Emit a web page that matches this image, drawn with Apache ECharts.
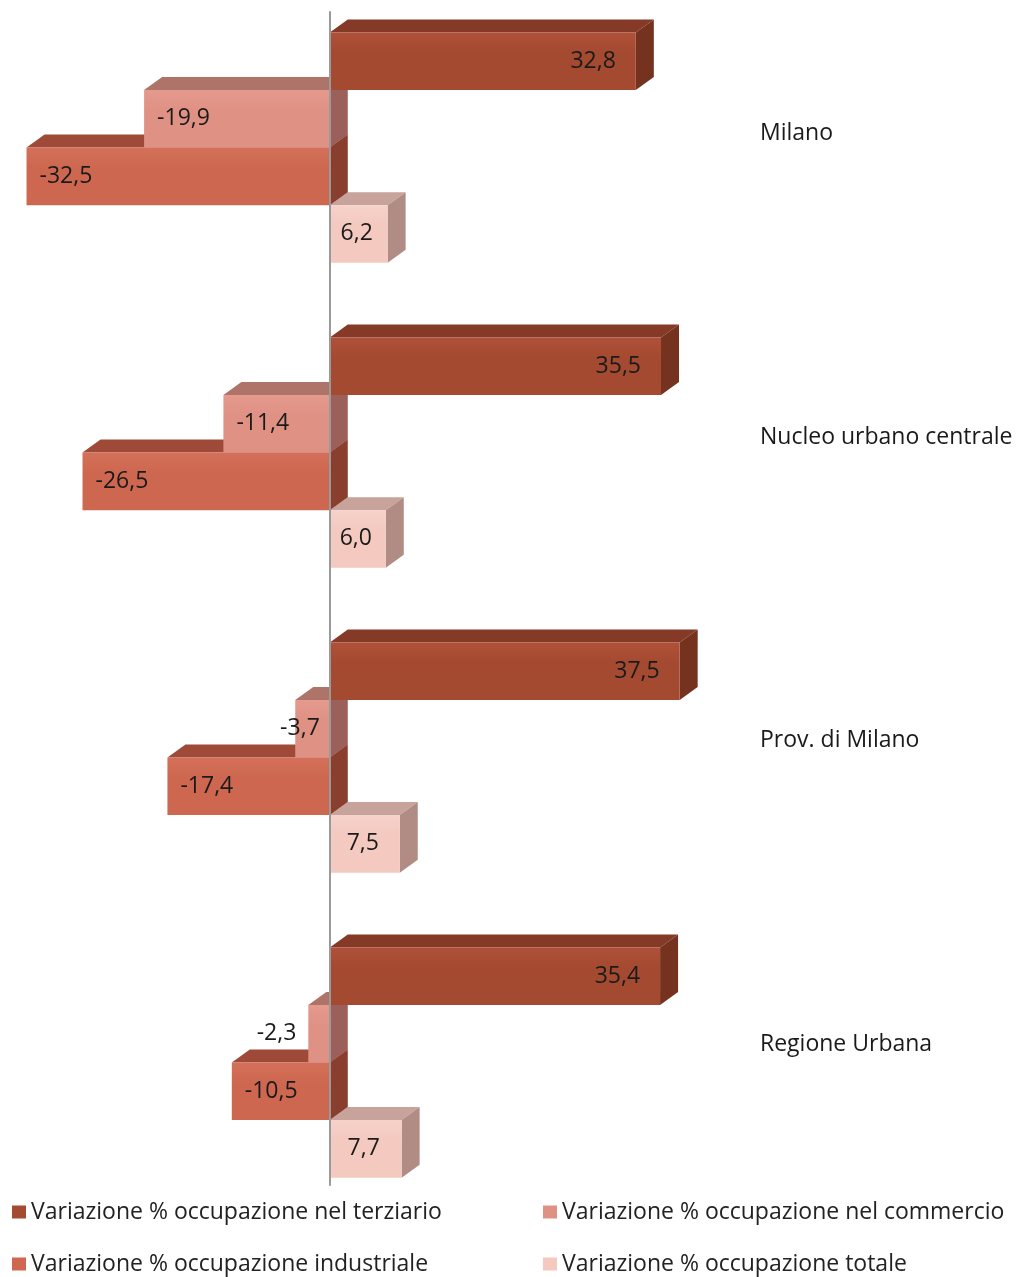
<!DOCTYPE html>
<html>
<head>
<meta charset="utf-8">
<script src="https://cdn.jsdelivr.net/npm/echarts@6/dist/echarts.min.js"></script>
<style>
  html, body { margin: 0; padding: 0; background: #fff; }
  #chart { width: 1017px; height: 1277px; }
</style>
</head>
<body>
<div id="chart"></div>
<script>
// Areas (top to bottom)
const categories = ['Milano', 'Nucleo urbano centrale', 'Prov. di Milano', 'Regione Urbana'];

// Series names
const seriesNames = [
  'Variazione % occupazione nel terziario',
  'Variazione % occupazione nel commercio',
  'Variazione % occupazione industriale',
  'Variazione % occupazione totale'
];

// Values per area
const terziario   = [32.8, 35.5, 37.5, 35.4];
const commercio   = [-19.9, -11.4, -3.7, -2.3];
const industriale = [-32.5, -26.5, -17.4, -10.5];
const totale      = [6.2, 6.0, 7.5, 7.7];

const seriesValues = [terziario, commercio, industriale, totale];

// Face colours: front, top, side
const palette = [
  { front: '#A44A31', light: '#AE5138', top: '#853A27', side: '#74321F' },
  { front: '#DF9184', light: '#E49A8D', top: '#AE7369', side: '#9B6059' },
  { front: '#CD6750', light: '#D47059', top: '#9F4A38', side: '#8A3E2D' },
  { front: '#F3C9C0', light: '#F6D2CA', top: '#C7A39B', side: '#B18C85' }
];

const FONT = '"Open Sans", Lato, sans-serif';
const N = seriesValues.length;
const GAP = 0.245;       // share of each area slot left empty
const DX = 18, DY = -13; // extrusion offset of the 3D boxes

const fmt = v => v.toFixed(1).replace('.', ',');

function makeRender(sIdx) {
  const col = palette[sIdx];
  return function (params, api) {
    const cat = api.value(0);
    const val = api.value(1);
    const band = api.size([0, 1])[1];      // one area slot
    const barH = band * (1 - GAP) / N;
    const zeroPt = api.coord([0, cat]);
    const endX = api.coord([val, cat])[0];
    const zeroX = zeroPt[0];
    const top = zeroPt[1] - band * (1 - GAP) / 2 + sIdx * barH;
    const L = Math.min(zeroX, endX), R = Math.max(zeroX, endX);
    const w = R - L;

    const children = [
      { type: 'polygon', shape: { points: [[L, top], [L + DX, top + DY], [R + DX, top + DY], [R, top]] },
        style: { fill: col.top } },
      { type: 'polygon', shape: { points: [[R, top], [R + DX, top + DY], [R + DX, top + DY + barH], [R, top + barH]] },
        style: { fill: col.side } },
      { type: 'rect', shape: { x: L, y: top, width: w, height: barH },
        style: { fill: { type: 'linear', x: 0, y: 0, x2: 0, y2: 1,
          colorStops: [{ offset: 0, color: col.light }, { offset: 0.35, color: col.front }, { offset: 1, color: col.front }] } } }
    ];

    // value label
    const ty = top + barH / 2;
    let tx, align;
    if (val >= 0) {
      if (w > 120) { tx = R - 20; align = 'right'; }
      else { tx = L + w / 2 - 2; align = 'center'; }
    } else {
      if (w > 60) { tx = L + 13; align = 'left'; }
      else if (w >= 30) { tx = zeroX - 10; align = 'right'; }
      else { tx = L - 12; align = 'right'; }
    }
    children.push({
      type: 'text',
      style: { text: fmt(val), x: tx, y: ty, align: align, verticalAlign: 'middle',
        fill: '#1a1a1a', font: '23px ' + FONT }
    });
    return { type: 'group', children: children };
  };
}

const series = seriesValues.map((vals, i) => ({
  name: seriesNames[i],
  type: 'custom',
  xAxisIndex: 0,
  yAxisIndex: 0,
  z: 10 - i,
  itemStyle: { color: palette[i].front },
  encode: { x: 1, y: 0 },
  data: vals.map((v, c) => [c, v]),
  renderItem: makeRender(i)
}));

// one legend per entry, laid out as two columns of two rows
const legendSlots = [[12, 1200], [543, 1200], [12, 1252], [543, 1252]];
const legends = seriesNames.map((name, i) => ({
  left: legendSlots[i][0], top: legendSlots[i][1], padding: 0,
  itemWidth: 14, itemHeight: 13, itemGap: 0, icon: 'rect',
  textStyle: { color: '#222', fontSize: 23, lineHeight: 24, fontFamily: FONT },
  data: [name]
}));

const option = {
  animation: false,
  backgroundColor: '#fff',
  grid: [
    { left: 20, right: 314, top: 0, height: 1215 },
    { left: 20, right: 314, top: 12, bottom: 92 }
  ],
  xAxis: [
    { type: 'value', gridIndex: 0, min: -33.2, max: 40, show: false },
    { type: 'value', gridIndex: 1, min: -33.2, max: 40, show: false }
  ],
  yAxis: [
    // positions the area slots (index 0..3, top to bottom)
    { type: 'value', gridIndex: 0, min: -0.484, max: 3.5, inverse: true, show: false },
    // area names on the right
    { type: 'category', gridIndex: 0, data: categories, inverse: true, position: 'right',
      axisLine: { show: false }, axisTick: { show: false }, splitLine: { show: false },
      axisLabel: { margin: 57, align: 'left', verticalAlign: 'bottom', lineHeight: 37,
        color: '#1a1a1a', fontSize: 23, fontFamily: FONT } },
    // zero line
    { type: 'category', gridIndex: 1, data: [''], z: 50,
      axisLine: { show: true, onZero: true, lineStyle: { color: '#9a9a9a', width: 2 } },
      axisTick: { show: false }, axisLabel: { show: false }, splitLine: { show: false } }
  ],
  legend: legends,
  series: series
};

const chart = echarts.init(document.getElementById('chart'), null, { renderer: 'canvas' });
chart.setOption(option);
</script>
</body>
</html>
